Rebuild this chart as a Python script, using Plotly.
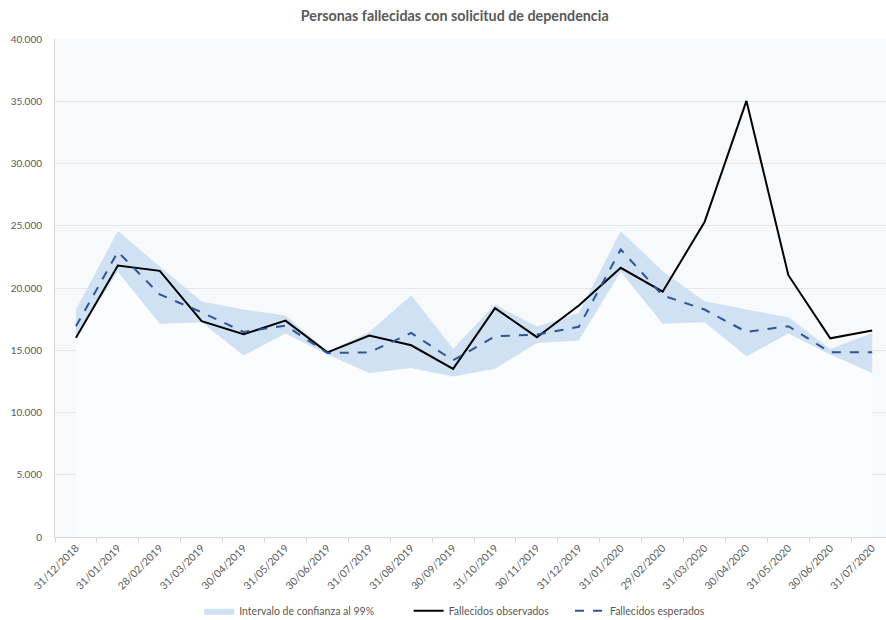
import plotly.graph_objects as go

fechas = ["31/12/2018", "31/01/2019", "28/02/2019", "31/03/2019", "30/04/2019",
          "31/05/2019", "30/06/2019", "31/07/2019", "31/08/2019", "30/09/2019",
          "31/10/2019", "30/11/2019", "31/12/2019", "31/01/2020", "29/02/2020",
          "31/03/2020", "30/04/2020", "31/05/2020", "30/06/2020", "31/07/2020"]

observados = [16000, 21800, 21380, 17330, 16280, 17380, 14830, 16180, 15400, 13500,
              18380, 16050, 18600, 21620, 19700, 25300, 35030, 21030, 15960, 16580]

esperados = [16920, 22910, 19480, 18050, 16470, 16980, 14780, 14830, 16390, 14190,
             16120, 16260, 16880, 23100, 19400, 18270, 16470, 16930, 14830, 14830]

ic_superior = [18270, 24570, 21730, 18910, 18270, 17790, 14910, 16440, 19420, 15130,
               18670, 16900, 18000, 24570, 21350, 18940, 18270, 17650, 15100, 16390]

ic_inferior = [16100, 21300, 17120, 17250, 14570, 16340, 14650, 13170, 13580, 12900,
               13520, 15590, 15780, 21300, 17120, 17250, 14510, 16340, 14650, 13170]

y_ticks = [0, 5000, 10000, 15000, 20000, 25000, 30000, 35000, 40000]

FONT = "Lato, 'Open Sans', sans-serif"
GRAY_TXT = "#595959"
PAD = "\u00a0"

fig = go.Figure()

# lower bound (opaque near-white fill down to zero, as in the stacked-area original)
fig.add_trace(go.Scatter(
    x=fechas, y=ic_inferior, mode="lines", line=dict(width=0, color="#fbfcfd"),
    fill="tozeroy", fillcolor="#fbfcfd", showlegend=False, hoverinfo="skip"))

# confidence band
fig.add_trace(go.Scatter(
    x=fechas, y=ic_superior, mode="lines", line=dict(width=0, color="#cfe1f2"),
    fill="tonexty", fillcolor="#cfe1f2",
    name="Intervalo de confianza al 99%" + PAD * 11))

fig.add_trace(go.Scatter(
    x=fechas, y=observados, mode="lines", line=dict(color="#000000", width=2),
    name="Fallecidos observados" + PAD * 6))

fig.add_trace(go.Scatter(
    x=fechas, y=esperados, mode="lines",
    line=dict(color="#2f5597", width=2, dash="dash"),
    name="Fallecidos esperados"))

fig.update_layout(
    width=886, height=620,
    margin=dict(l=55, r=0, t=39, b=83),
    paper_bgcolor="#ffffff",
    plot_bgcolor="#f8f9fb",
    separators=",.",
    font=dict(family=FONT, color=GRAY_TXT, size=10),
    title=dict(text="<b>Personas fallecidas con solicitud de dependencia</b>",
               x=0.481, xanchor="center", y=0.975, yanchor="middle",
               xref="paper",
               font=dict(family=FONT, size=14.3, color=GRAY_TXT)),
    showlegend=True,
    legend=dict(orientation="h", x=0.481, xanchor="center",
                yref="container", y=0.015, yanchor="middle",
                font=dict(family=FONT, size=10.5, color=GRAY_TXT),
                itemwidth=30, traceorder="normal"),
    xaxis=dict(type="category", range=[-0.5, 19.33],
               tickson="boundaries", ticks="outside", ticklen=5,
               tickcolor="#d9d9d9", showline=True, linecolor="#d9d9d9",
               showgrid=False, tickangle=-45,
               tickfont=dict(family=FONT, size=10.5, color=GRAY_TXT)),
    yaxis=dict(range=[0, 40000], tickvals=y_ticks, tickformat=",d",
               ticks="", ticklabelstandoff=10,
               showline=True, linecolor="#d9d9d9",
               showgrid=True, gridcolor="#e6e6e6", zeroline=False,
               tickfont=dict(family=FONT, size=10, color=GRAY_TXT)),
)

fig.write_html("out.html", config={"displayModeBar": False},
               post_script="document.body.style.margin='0px';document.body.style.overflow='hidden';")
